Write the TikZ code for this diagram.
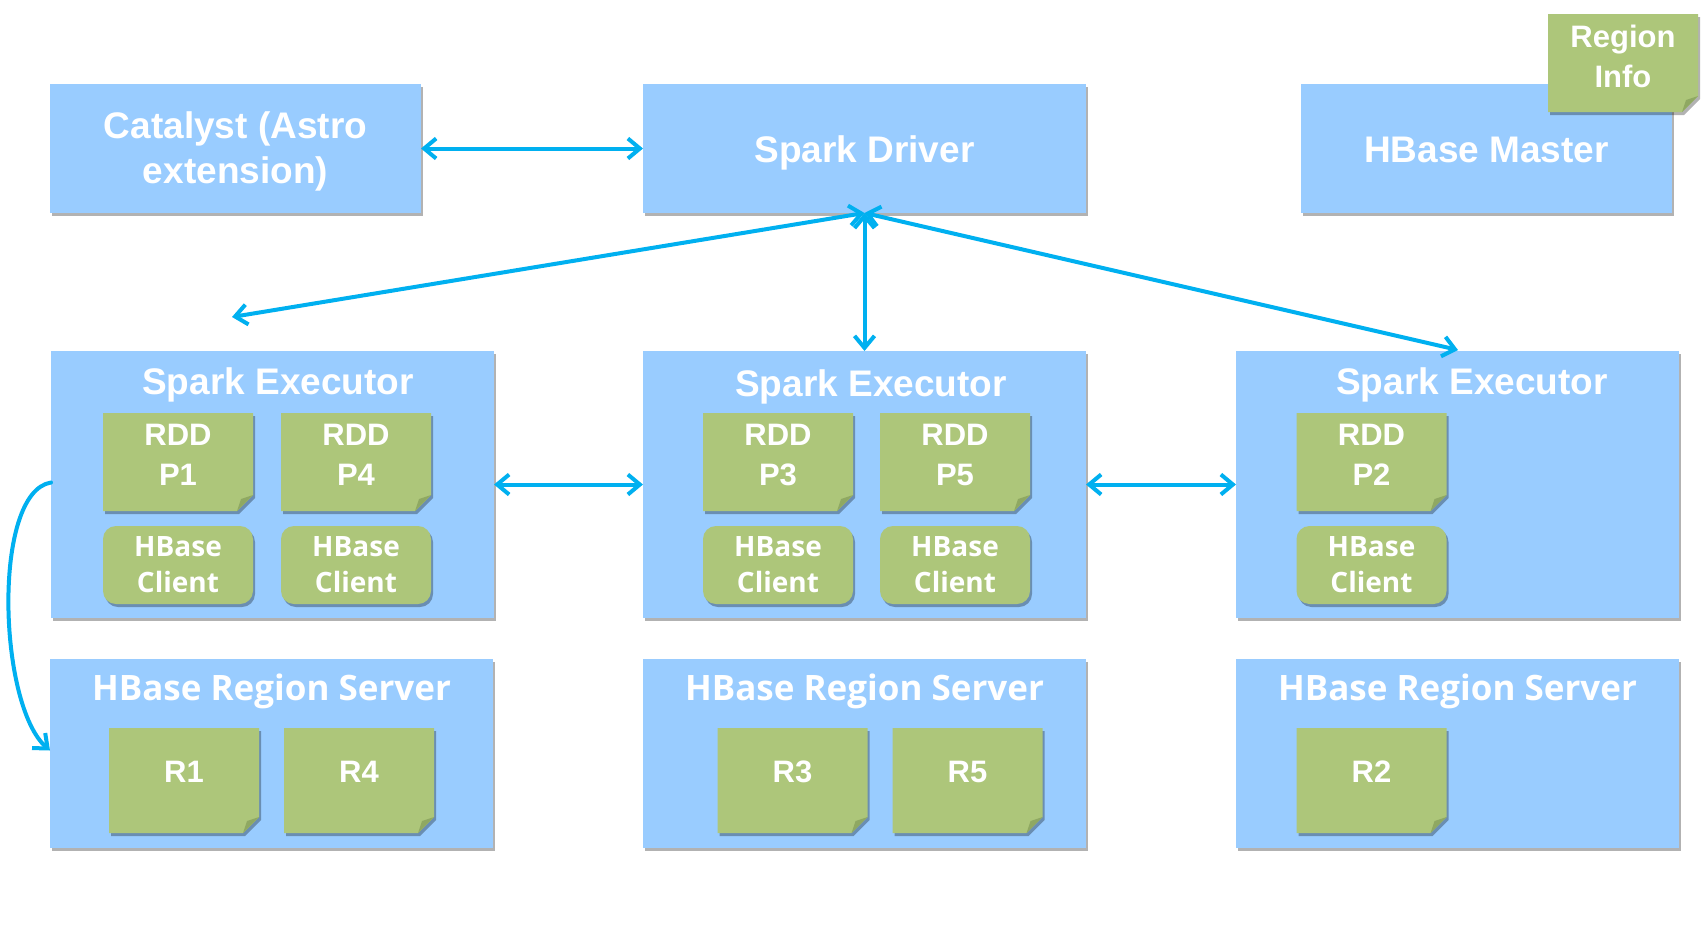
\documentclass[tikz,border=0pt]{standalone}
\usepackage{fontspec}
\setmainfont{Liberation Sans}
\newfontfamily\segoe{Open Sans}
\usetikzlibrary{arrows.meta,shadows}
\definecolor{boxblue}{RGB}{153,204,255}
\definecolor{notegreen}{RGB}{173,198,122}
\definecolor{folddark}{RGB}{143,168,98}
\definecolor{arrowcyan}{RGB}{0,176,240}
\newcommand\fs[2]{\fontsize{#1}{#2}\selectfont}
\newcommand\mynote[5]{%
  \node[inner sep=0pt, outer sep=0pt, minimum width=#4pt, minimum height=#5pt] (#1) at (#2,#3) {};
  \fill[black, opacity=0.3] ([xshift=2pt,yshift=-3pt]#1.north west) -- ([xshift=2pt,yshift=-3pt]#1.north east)
     -- ([xshift=2pt,yshift=13pt]#1.south east) -- ([xshift=-14pt,yshift=-3pt]#1.south east)
     -- ([xshift=2pt,yshift=-3pt]#1.south west) -- cycle;
  \fill[notegreen] (#1.north west) -- (#1.north east) -- ([yshift=16pt]#1.south east)
     -- ([xshift=-16pt]#1.south east) -- (#1.south west) -- cycle;
  \fill[folddark] ([yshift=16pt]#1.south east) -- ([xshift=-16pt]#1.south east)
     -- ([xshift=-12pt,yshift=12pt]#1.south east) -- cycle;
}
\begin{document}
\begin{tikzpicture}[x=1pt,y=-1pt,
  box/.style={fill=boxblue, inner sep=0pt, outer sep=0pt,
    drop shadow={shadow xshift=2pt, shadow yshift=-3pt, opacity=0.3, fill=black}},
  client/.style={fill=notegreen, rounded corners=13pt, inner sep=0pt, outer sep=0pt,
    minimum width=150pt, minimum height=78pt, text=white, align=center,
    font=\segoe\bfseries\fs{28}{36},
    drop shadow={shadow xshift=2pt, shadow yshift=-3pt, opacity=0.3, fill=black}},
  ttl/.style={text=white, inner sep=0pt, anchor=base, font=\bfseries\fs{37}{42}},
  rsttl/.style={text=white, inner sep=0pt, anchor=base, font=\segoe\bfseries\fs{35}{40}},
  notetxt/.style={text=white, inner sep=0pt, align=center, font=\bfseries\fs{31}{40}},
  arr/.style={draw=arrowcyan, line width=4pt, line cap=round, line join=round},
  >={Straight Barb[length=12pt,width=20pt]}
]
\useasboundingbox (0,0) rectangle (1706,937);
\fill[white] (0,0) rectangle (1706,937);

% top row
\node[box, minimum width=371pt, minimum height=129pt] (cat) at (235.5,148.5) {};
\node[text=white, inner sep=0pt, align=center, font=\bfseries\fs{37}{45}] (catt) at (235.5,151) {Catalyst (Astro\\extension)};
\node[box, minimum width=443pt, minimum height=129pt] (drv) at (864.5,148.5) {};
\node[ttl] (drvt) at (864.5,162) {Spark Driver};
\node[box, minimum width=371pt, minimum height=129pt] (mst) at (1486.5,148.5) {};
\node[ttl] (mstt) at (1486.5,162) {HBase Master};
\mynote{ri}{1623}{63}{150}{98}
\node[notetxt] (rit) at (1623,56) {Region\\Info};

% executors
\node[box, minimum width=443pt, minimum height=267pt] (ex1) at (272.5,484.5) {};
\node[box, minimum width=443pt, minimum height=267pt] (ex2) at (864.5,484.5) {};
\node[box, minimum width=443pt, minimum height=267pt] (ex3) at (1457.5,484.5) {};
\node[ttl] (ex1t) at (278,394) {Spark Executor};
\node[ttl] (ex2t) at (871,396) {Spark Executor};
\node[ttl] (ex3t) at (1472,394) {Spark Executor};

\mynote{p1}{178}{462}{150}{98}
\mynote{p4}{356}{462}{150}{98}
\mynote{p3}{778}{462}{150}{98}
\mynote{p5}{955}{462}{150}{98}
\mynote{p2}{1371.5}{462}{150}{98}
\node[notetxt] (p1t) at (178,455) {RDD\\P1};
\node[notetxt] (p4t) at (356,455) {RDD\\P4};
\node[notetxt] (p3t) at (778,455) {RDD\\P3};
\node[notetxt] (p5t) at (955,455) {RDD\\P5};
\node[notetxt] (p2t) at (1371.5,455) {RDD\\P2};

\node[client] (c1) at (178,565) {HBase\\Client};
\node[client] (c4) at (356,565) {HBase\\Client};
\node[client] (c3) at (778,565) {HBase\\Client};
\node[client] (c5) at (955,565) {HBase\\Client};
\node[client] (c2) at (1371.5,565) {HBase\\Client};

% region servers
\node[box, minimum width=443pt, minimum height=189pt] (rs1) at (271.5,753.5) {};
\node[box, minimum width=443pt, minimum height=189pt] (rs2) at (864.5,753.5) {};
\node[box, minimum width=443pt, minimum height=189pt] (rs3) at (1457.5,753.5) {};
\node[rsttl] (rs1t) at (271.5,700) {HBase Region Server};
\node[rsttl] (rs2t) at (864.5,700) {HBase Region Server};
\node[rsttl] (rs3t) at (1457.5,700) {HBase Region Server};

\mynote{r1}{184}{780.5}{150}{105}
\mynote{r4}{359}{780.5}{150}{105}
\mynote{r3}{792.5}{780.5}{150}{105}
\mynote{r5}{967.5}{780.5}{150}{105}
\mynote{r2}{1371.5}{780.5}{150}{105}
\node[notetxt] (r1t) at (184,772) {R1};
\node[notetxt] (r4t) at (359,772) {R4};
\node[notetxt] (r3t) at (792.5,772) {R3};
\node[notetxt] (r5t) at (967.5,772) {R5};
\node[notetxt] (r2t) at (1371.5,772) {R2};

% connectors
\coordinate (lt) at (232,317);
\coordinate (rt) at (1458,350);
\draw[arr,<->] (cat.east) -- (drv.west);
\draw[arr,<->] (drv.south) -- (lt);
\draw[arr,<->] (drv.south) -- (ex2.north);
\draw[arr,<->] (drv.south) -- (rt);
\draw[arr,<->] (ex1.east) -- (ex2.west);
\draw[arr,<->] (ex2.east) -- (ex3.west);
\draw[arr,->] ([yshift=2pt]ex1.west) .. controls (-8,492) and (-2,705) .. ([yshift=3pt]rs1.west);
\end{tikzpicture}
\end{document}
